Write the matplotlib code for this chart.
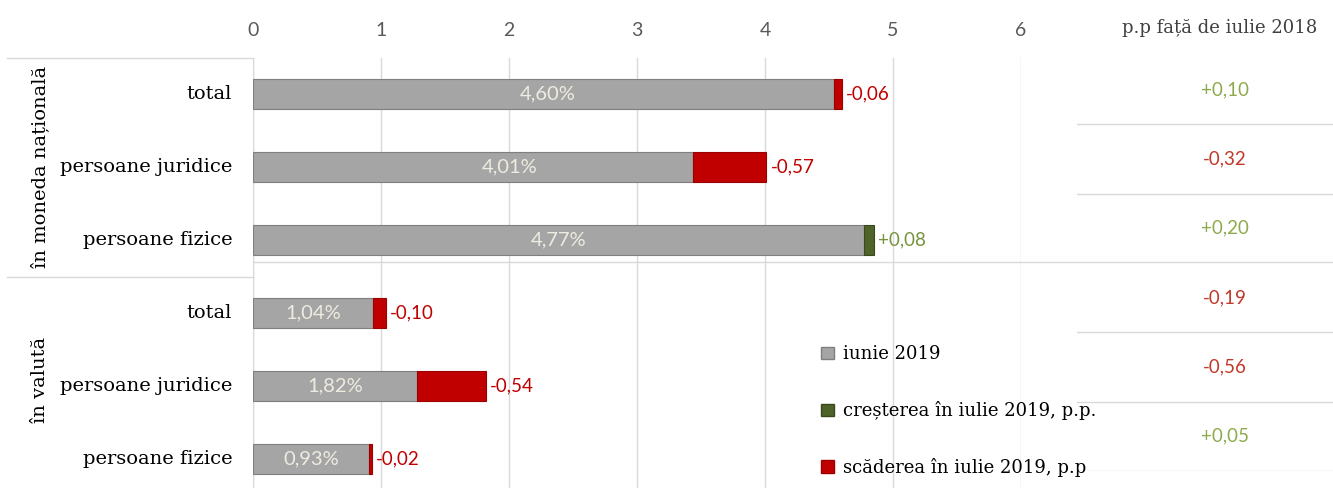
import matplotlib
matplotlib.use("Agg")
import matplotlib.pyplot as plt
from matplotlib.lines import Line2D
from matplotlib.patches import Patch
import numpy as np

# data
groups = ["în moneda națională", "în valută"]
categories = ["total", "persoane juridice", "persoane fizice",
              "total", "persoane juridice", "persoane fizice"]
june = [4.60, 4.01, 4.77, 1.04, 1.82, 0.93]
change_jul = [-0.06, -0.57, 0.08, -0.10, -0.54, -0.02]
vs_jul2018 = [0.10, -0.32, 0.20, -0.19, -0.56, 0.05]
xticks = [0, 1, 2, 3, 4, 5, 6]
legend_labels = ["iunie 2019", "creșterea în iulie 2019, p.p.", "scăderea în iulie 2019, p.p"]
table_title = "p.p față de iulie 2018"

SERIF = "DejaVu Serif"
SANS = "Lato"
GRAY, GRAY_E = "#A5A5A5", "#7F7F7F"
RED, RED_E = "#C00000", "#9A0000"
GREEN, GREEN_E = "#4F6228", "#3B4A1E"
TXT_RED, TXT_GREEN = "#C00000", "#77933C"
TAB_RED, TAB_GREEN = "#C0392B", "#8DAA4C"
GRID = "#D9D9D9"

W, H = 1333, 488
fig = plt.figure(figsize=(W / 100, H / 100), dpi=100)


def fx(px):
    return px / W


def fy(py):
    return 1 - py / H


def fmt(v):
    return f"{v:.2f}".replace(".", ",")


june = np.array(june)
change_jul = np.array(change_jul)
base = june + np.minimum(change_jul, 0)
up = np.maximum(change_jul, 0)
down = -np.minimum(change_jul, 0)
y = np.arange(len(categories))

ax = fig.add_axes([fx(253), 0, fx(1021) - fx(253), 1 - 57.5 / H])
ax.barh(y, base, height=0.4, color=GRAY, edgecolor=GRAY_E, linewidth=0.8, zorder=3)
ax.barh(y, up, left=base, height=0.4, color=GREEN, edgecolor=GREEN_E,
        linewidth=[0.8 if u > 0 else 0 for u in up], zorder=3)
ax.barh(y, down, left=base, height=0.4, color=RED, edgecolor=RED_E,
        linewidth=[0.8 if d > 0 else 0 for d in down], zorder=3)

ax.set_xlim(0, 6)
ax.set_ylim(5.397, -0.5)
ax.set_xticks(xticks)
ax.xaxis.tick_top()
ax.tick_params(axis="x", length=0, pad=13, labelsize=14, labelcolor="#595959")
for t in ax.get_xticklabels():
    t.set_fontfamily(SANS)
ax.set_yticks([])
ax.grid(axis="x", color=GRID, linewidth=1, zorder=0)
for s in ax.spines.values():
    s.set_visible(False)

for i in range(len(categories)):
    # label centred on full bar for the first group, on the gray part for the second
    cx = june[i] / 2 if i < 3 else base[i] / 2
    ax.text(cx, i, fmt(june[i]) + "%", ha="center", va="center",
            color="#EEECE1", fontsize=14.5, family=SANS, zorder=4)
    end = base[i] + up[i] + down[i]
    col = TXT_GREEN if change_jul[i] > 0 else TXT_RED
    ax.annotate(("+" if change_jul[i] > 0 else "") + fmt(change_jul[i]),
                (end, i), xytext=(3, 0), textcoords="offset points",
                ha="left", va="center", color=col, fontsize=13.5, family=SANS)
    ax.annotate(categories[i], (0, i), xytext=(-15, 0), textcoords="offset points",
                ha="right", va="center", fontsize=14, family=SERIF, color="black")

# left box lines for the group labels
ytr = ax.get_yaxis_transform()
for yy in (-0.5, 2.5):
    ax.add_line(Line2D([-0.32, 0], [yy, yy], transform=ytr, color=GRID,
                       linewidth=1, clip_on=False))
ax.axvline(0, color=GRID, linewidth=1, zorder=1)

fig.text(fx(40), fy(167), groups[0], rotation=90, ha="center", va="center",
         fontsize=14, family=SERIF)
fig.text(fx(40), fy(380), groups[1], rotation=90, ha="center", va="center",
         fontsize=14, family=SERIF)

# right-hand table
tax = fig.add_axes([fx(1077), 1 - 471 / H, 1 - fx(1077), (471 - 55) / H])
tax.set_xlim(0, 1)
tax.set_ylim(6, 0)
tax.axis("off")
for k in (1, 2, 4, 5, 6):
    tax.axhline(k, color=GRID, linewidth=1)
for i, v in enumerate(vs_jul2018):
    tax.text(0.578, i + 0.5, ("+" if v > 0 else "") + fmt(v), ha="center", va="center",
             fontsize=13.5, family=SANS, color=TAB_GREEN if v > 0 else TAB_RED)
fig.add_artist(Line2D([fx(253), 1], [fy(262), fy(262)], color=GRID, linewidth=1))
fig.text(fx(1220), fy(28), table_title, ha="center", va="center",
         fontsize=13, family=SERIF, color="#404040")

handles = [Patch(facecolor=GRAY, edgecolor=GRAY_E),
           Patch(facecolor=GREEN, edgecolor=GREEN_E),
           Patch(facecolor=RED, edgecolor=RED_E)]
leg = fig.legend(handles, legend_labels, loc="upper left",
                 bbox_to_anchor=(fx(814), fy(338)), frameon=False,
                 handlelength=0.7, handleheight=0.7, handletextpad=0.5,
                 labelspacing=2.1, borderaxespad=0,
                 prop={"family": SERIF, "size": 13})

fig.savefig("out.png", dpi=100)
